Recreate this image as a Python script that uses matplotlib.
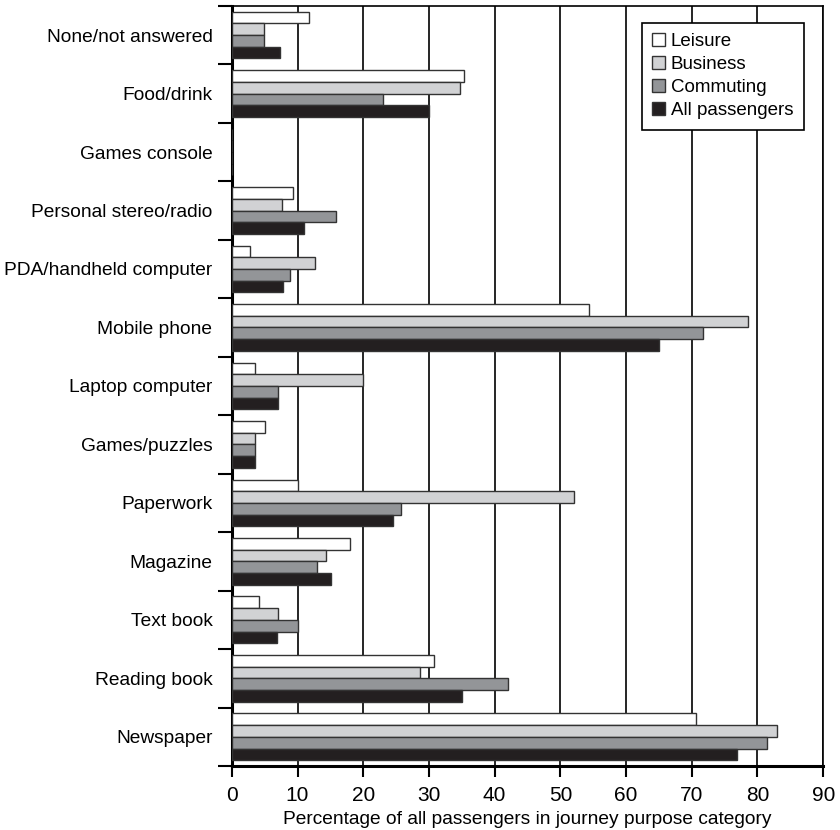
import matplotlib.pyplot as plt
import numpy as np
from matplotlib.patches import Patch

plt.rcParams['font.family'] = ['Liberation Sans Narrow', 'Liberation Sans', 'DejaVu Sans']

# categories listed top to bottom as in the chart
categories = ["None/not answered", "Food/drink", "Games console", "Personal stereo/radio",
              "PDA/handheld computer", "Mobile phone", "Laptop computer", "Games/puzzles",
              "Paperwork", "Magazine", "Text book", "Reading book", "Newspaper"]
leisure = [11.7, 35.3, 0, 9.3, 2.8, 54.3, 3.6, 5.1, 10.0, 18.0, 4.1, 30.8, 70.6]
business = [4.9, 34.8, 0, 7.7, 12.7, 78.6, 19.9, 3.6, 52.0, 14.3, 7.0, 28.7, 83.0]
commuting = [4.9, 23.0, 0, 15.8, 8.8, 71.7, 7.0, 3.6, 25.7, 13.0, 10.0, 42.0, 81.5]
all_passengers = [7.4, 30.0, 0, 11.0, 7.8, 65.0, 7.0, 3.6, 24.6, 15.1, 6.8, 35.0, 76.9]

series = [("Leisure", leisure, "#ffffff"),
          ("Business", business, "#d1d2d4"),
          ("Commuting", commuting, "#939598"),
          ("All passengers", all_passengers, "#231f20")]

fig = plt.figure(figsize=(8.4, 8.3), dpi=100)
ax = fig.add_axes([0.276, 0.077, 0.704, 0.916])

n = len(categories)
y = np.arange(n)[::-1]
h = 0.2
offsets = [0.3, 0.1, -0.1, -0.3]
for (name, vals, col), off in zip(series, offsets):
    ax.barh(y + off, vals, height=h, color=col, edgecolor="#333333",
            linewidth=1.0, zorder=3)

ax.set_xlim(0, 90)
ax.set_ylim(-0.5, n - 0.5)
ax.set_xticks(range(0, 91, 10))
ax.xaxis.grid(True, color="black", linewidth=1.2, zorder=0)
ax.set_axisbelow(True)

ax.set_yticks(y)
ax.set_yticklabels(categories, fontsize=13.8)
ax.tick_params(axis="y", length=0, pad=14)
ax.set_yticks(np.arange(-0.5, n, 1.0), minor=True)
ax.tick_params(axis="y", which="minor", length=10, width=1.5, direction="out")
ax.tick_params(axis="x", length=8, width=1.5, direction="out", labelsize=15, pad=6)

for s in ["left", "bottom"]:
    ax.spines[s].set_linewidth(2.2)
for s in ["top", "right"]:
    ax.spines[s].set_linewidth(1.2)

ax.set_xlabel("Percentage of all passengers in journey purpose category", fontsize=13.8, labelpad=5)

handles = [Patch(facecolor=col, edgecolor="#333333", label=name) for name, _, col in series]
leg = ax.legend(handles=handles, loc="upper right", bbox_to_anchor=(0.967, 0.978),
                fontsize=13.5, frameon=True, fancybox=False, edgecolor="black",
                handlelength=0.7, handleheight=0.7, handletextpad=0.3,
                labelspacing=0.32, borderpad=0.55, borderaxespad=0)
leg.get_frame().set_linewidth(1.2)
leg.get_frame().set_alpha(1)

fig.savefig("out.png", dpi=100)
